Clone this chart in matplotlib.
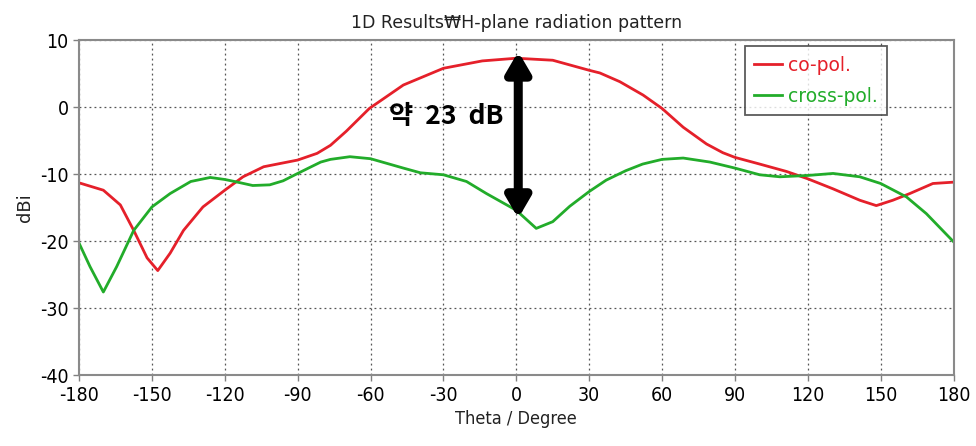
import matplotlib.pyplot as plt
import numpy as np

plt.rcParams['font.family'] = ['DejaVu Sans', 'Noto Sans CJK KR']
plt.rcParams['axes.unicode_minus'] = False

# values (theta in degrees, gain in dBi)
co_theta = [-180, -170, -163, -157.5, -152, -147.6, -142.5, -137, -129, -120,
            -112.5, -104, -90, -82, -76.5, -70, -60.5, -46.5, -30, -14, 0, 15,
            30, 34.4, 42.6, 52.2, 60, 68.7, 78.3, 85, 90, 100.2, 111.2, 120,
            130.4, 141.4, 148.2, 155, 162, 171.5, 180]
co_dbi = [-11.3, -12.4, -14.6, -18.4, -22.5, -24.4, -21.8, -18.4, -14.9, -12.4,
          -10.4, -8.9, -7.9, -6.9, -5.7, -3.6, -0.2, 3.3, 5.8, 6.9, 7.3, 7.0,
          5.5, 5.1, 3.8, 1.8, -0.2, -3.0, -5.5, -6.8, -7.5, -8.5, -9.6, -10.7,
          -12.2, -13.9, -14.7, -13.9, -12.9, -11.4, -11.2]

cx_theta = [-180, -175.5, -170, -164.5, -157.5, -150, -142.5, -134, -126, -120,
            -116, -108.5, -101.5, -96, -90, -85, -80.5, -76.5, -68.5, -60, -46.5,
            -39.5, -30, -20.5, -12.3, 0, 8.2, 15, 22, 30, 37, 45, 52, 60, 68.7,
            79.7, 90, 100.2, 108.5, 120, 130.4, 141.4, 150, 160.6, 168.8, 180]
cx_dbi = [-20.3, -23.8, -27.6, -23.8, -18.4, -14.9, -12.9, -11.1, -10.5, -10.8,
          -11.1, -11.7, -11.6, -11.0, -9.9, -9.0, -8.2, -7.8, -7.4, -7.7, -9.1,
          -9.8, -10.1, -11.1, -12.9, -15.4, -18.1, -17.1, -14.8, -12.6, -10.9,
          -9.5, -8.5, -7.8, -7.6, -8.2, -9.1, -10.1, -10.4, -10.2, -9.9, -10.4,
          -11.4, -13.4, -15.9, -20.1]

x_ticks = np.arange(-180, 181, 30)
y_ticks = np.arange(-40, 11, 10)

fig = plt.figure(figsize=(9.76, 4.46), dpi=100)
ax = fig.add_axes([0.081, 0.159, 0.896, 0.751])

ax.plot(co_theta, co_dbi, color="#e5202a", lw=2, label="co-pol.")
ax.plot(cx_theta, cx_dbi, color="#22ac2a", lw=2, label="cross-pol.")

ax.set_xlim(-180, 180)
ax.set_ylim(-40, 10)
ax.set_xticks(x_ticks)
ax.set_yticks(y_ticks)
ax.tick_params(labelsize=14, length=4, color="#808080", width=1)
for lbl in ax.get_xticklabels() + ax.get_yticklabels():
    lbl.set_fontstretch("condensed")
ax.grid(True, linestyle=(0, (1.5, 2.5)), color="#555555", lw=0.9)
for s in ax.spines.values():
    s.set_color("#8a8a8a")
    s.set_linewidth(1.5)

ax.set_title("1D Results\u20a9H-plane radiation pattern", fontsize=12.5, color="#222222", pad=9)
ax.set_xlabel("Theta / Degree", fontsize=13, color="#222222", fontstretch="condensed")
ax.set_ylabel("dBi", fontsize=13, color="#222222")

# double arrow showing the co / cross difference at broadside
ax.annotate("", xy=(0.8, 8.3), xytext=(0.8, -16.6),
            arrowprops=dict(arrowstyle="<|-|>,head_length=1.2,head_width=0.7",
                            color="black", lw=6.5, shrinkA=0, shrinkB=0))
ax.text(-29, -1.4, "약  23  dB", fontsize=19, fontweight="bold",
        family=["Noto Sans CJK KR", "DejaVu Sans"], ha="center", va="center")

leg = ax.legend(loc="upper right", bbox_to_anchor=(0.924, 0.982), fontsize=13.5,
                fancybox=False, edgecolor="#333333", handlelength=1.5,
                handletextpad=0.3, borderpad=0.5, labelspacing=0.65,
                borderaxespad=0)
leg.get_frame().set_linewidth(1.3)
for t, l in zip(leg.get_texts(), leg.get_lines()):
    t.set_color(l.get_color())

fig.savefig("out.png", dpi=100)
